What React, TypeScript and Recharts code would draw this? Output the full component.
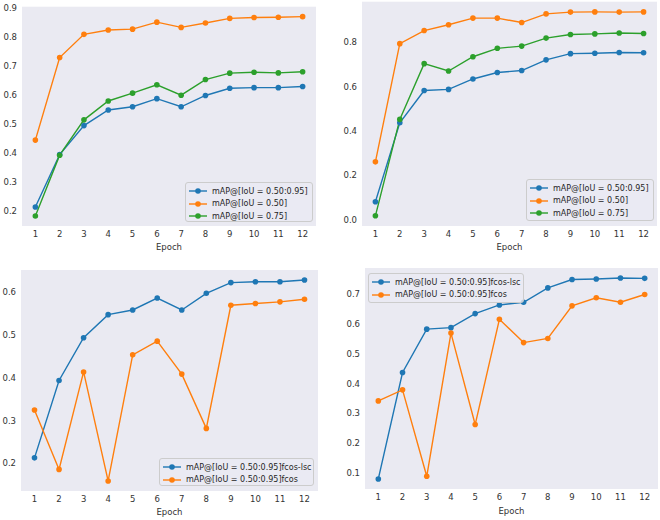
import { LineChart, Line, XAxis, YAxis, Legend } from "recharts"

const epochs = [1, 2, 3, 4, 5, 6, 7, 8, 9, 10, 11, 12]

// fcos-lsc, dataset A
const mapA = [0.213, 0.394, 0.494, 0.548, 0.559, 0.587, 0.559, 0.598, 0.623, 0.625, 0.625, 0.629]
const map50A = [0.444, 0.729, 0.809, 0.824, 0.827, 0.851, 0.833, 0.848, 0.864, 0.867, 0.868, 0.870]
const map75A = [0.182, 0.392, 0.514, 0.579, 0.606, 0.635, 0.599, 0.653, 0.675, 0.678, 0.676, 0.680]

// fcos-lsc, dataset B
const mapB = [0.081, 0.437, 0.582, 0.587, 0.634, 0.663, 0.672, 0.720, 0.748, 0.750, 0.753, 0.752]
const map50B = [0.261, 0.793, 0.852, 0.878, 0.908, 0.908, 0.888, 0.927, 0.935, 0.936, 0.935, 0.936]
const map75B = [0.018, 0.452, 0.703, 0.670, 0.734, 0.772, 0.782, 0.818, 0.834, 0.837, 0.841, 0.839]

// plain fcos baselines
const fcosA = [0.325, 0.186, 0.414, 0.159, 0.454, 0.486, 0.409, 0.282, 0.570, 0.574, 0.578, 0.584]
const fcosB = [0.342, 0.379, 0.090, 0.569, 0.263, 0.615, 0.537, 0.551, 0.660, 0.687, 0.672, 0.698]

const ticksA = [0.2, 0.3, 0.4, 0.5, 0.6, 0.7, 0.8, 0.9]
const ticksB = [0.0, 0.2, 0.4, 0.6, 0.8]
const ticksC = [0.2, 0.3, 0.4, 0.5, 0.6]
const ticksD = [0.1, 0.2, 0.3, 0.4, 0.5, 0.6, 0.7]

const BLUE = "#1f77b4"
const ORANGE = "#ff7f0e"
const GREEN = "#2ca02c"
const FONT = "DejaVu Sans"
const TEXT = "#333333"

type Series = { name: string; values: number[]; color: string }

type PanelProps = {
  left: number
  top: number
  yWidth: number
  right: number
  mTop: number
  xHeight: number
  labelOffset: number
  series: Series[]
  yTicks: number[]
  legendBox: { left: number; top: number; width: number; height: number }
}

function LegendBox({ series }: { series: Series[] }) {
  return (
    <div
      style={{
        boxSizing: "border-box",
        width: "100%",
        height: "100%",
        border: "1px solid #cccccc",
        borderRadius: 3,
        background: "rgba(234,234,242,0.8)",
        padding: "2px 0 0 2px",
        fontFamily: FONT,
        fontSize: 8,
        color: "#262626",
      }}
    >
      {series.map((s) => (
        <div key={s.name} style={{ display: "flex", alignItems: "center", height: 12.5 }}>
          <svg width={20} height={8} style={{ marginRight: 4 }}>
            <line x1={1} y1={4} x2={19} y2={4} stroke={s.color} strokeWidth={1.4} />
            <circle cx={10} cy={4} r={2.8} fill={s.color} />
          </svg>
          <span style={{ whiteSpace: "nowrap" }}>{s.name}</span>
        </div>
      ))}
    </div>
  )
}

function Panel(p: PanelProps) {
  const data = epochs.map((e, i) => {
    const row: Record<string, number> = { epoch: e }
    p.series.forEach((s, k) => (row["s" + k] = s.values[i]))
    return row
  })
  const all = p.series.flatMap((s) => s.values)
  const lo = Math.min(...all)
  const hi = Math.max(...all)
  const pad = (hi - lo) * 0.05

  return (
    <div style={{ position: "absolute", left: p.left, top: p.top }}>
      <LineChart
        width={330}
        height={260}
        data={data}
        margin={{ top: p.mTop, right: p.right, bottom: 0, left: 0 }}
      >
        <rect
          x={p.yWidth}
          y={p.mTop}
          width={330 - p.yWidth - p.right}
          height={260 - p.mTop - p.xHeight}
          fill="#eaeaf2"
        />
        <XAxis
          type="number"
          dataKey="epoch"
          domain={[0.45, 12.55]}
          ticks={epochs}
          interval={0}
          height={p.xHeight}
          axisLine={false}
          tickLine={false}
          tickSize={0}
          tickMargin={5}
          tick={{ fill: TEXT, fontSize: 8.5, fontFamily: FONT }}
          label={{
            value: "Epoch",
            position: "insideBottom",
            offset: p.labelOffset,
            fill: TEXT,
            fontSize: 8.5,
            fontFamily: FONT,
          }}
        />
        <YAxis
          type="number"
          domain={[lo - pad, hi + pad]}
          ticks={p.yTicks}
          allowDataOverflow
          width={p.yWidth}
          axisLine={false}
          tickLine={false}
          tickSize={0}
          tickMargin={5}
          tickFormatter={(v: number) => v.toFixed(1)}
          tick={{ fill: TEXT, fontSize: 8.5, fontFamily: FONT }}
        />
        {p.series.map((s, k) => (
          <Line
            key={s.name}
            dataKey={"s" + k}
            name={s.name}
            type="linear"
            stroke={s.color}
            strokeWidth={1.4}
            dot={{ r: 2.8, fill: s.color, stroke: s.color, strokeWidth: 0 }}
            activeDot={false}
            isAnimationActive={false}
          />
        ))}
        <Legend
          layout="horizontal"
          verticalAlign="middle"
          align="center"
          wrapperStyle={{ ...p.legendBox, margin: 0 }}
          content={() => <LegendBox series={p.series} />}
        />
      </LineChart>
    </div>
  )
}

export default function App() {
  return (
    <div style={{ position: "absolute", left: 0, top: 0, width: 660, height: 520, background: "#ffffff" }}>
      <Panel
        left={0}
        top={0}
        yWidth={22}
        right={14}
        mTop={6.7}
        xHeight={34}
        labelOffset={10}
        yTicks={ticksA}
        series={[
          { name: "mAP@[IoU = 0.50:0.95]", values: mapA, color: BLUE },
          { name: "mAP@[IoU = 0.50]", values: map50A, color: ORANGE },
          { name: "mAP@[IoU = 0.75]", values: map75A, color: GREEN },
        ]}
        legendBox={{ left: 185, top: 182, width: 128, height: 40 }}
      />
      <Panel
        left={330}
        top={0}
        yWidth={32}
        right={3}
        mTop={1.7}
        xHeight={34}
        labelOffset={10}
        yTicks={ticksB}
        series={[
          { name: "mAP@[IoU = 0.50:0.95]", values: mapB, color: BLUE },
          { name: "mAP@[IoU = 0.50]", values: map50B, color: ORANGE },
          { name: "mAP@[IoU = 0.75]", values: map75B, color: GREEN },
        ]}
        legendBox={{ left: 196, top: 179, width: 128, height: 42 }}
      />
      <Panel
        left={0}
        top={260}
        yWidth={21}
        right={12}
        mTop={10}
        xHeight={29}
        labelOffset={5}
        yTicks={ticksC}
        series={[
          { name: "mAP@[IoU = 0.50:0.95]fcos-lsc", values: mapA, color: BLUE },
          { name: "mAP@[IoU = 0.50:0.95]fcos", values: fcosA, color: ORANGE },
        ]}
        legendBox={{ left: 159, top: 198, width: 155, height: 28 }}
      />
      <Panel
        left={330}
        top={260}
        yWidth={35}
        right={2}
        mTop={8}
        xHeight={31}
        labelOffset={6.5}
        yTicks={ticksD}
        series={[
          { name: "mAP@[IoU = 0.50:0.95]fcos-lsc", values: mapB, color: BLUE },
          { name: "mAP@[IoU = 0.50:0.95]fcos", values: fcosB, color: ORANGE },
        ]}
        legendBox={{ left: 38, top: 13, width: 156, height: 30 }}
      />
    </div>
  )
}
